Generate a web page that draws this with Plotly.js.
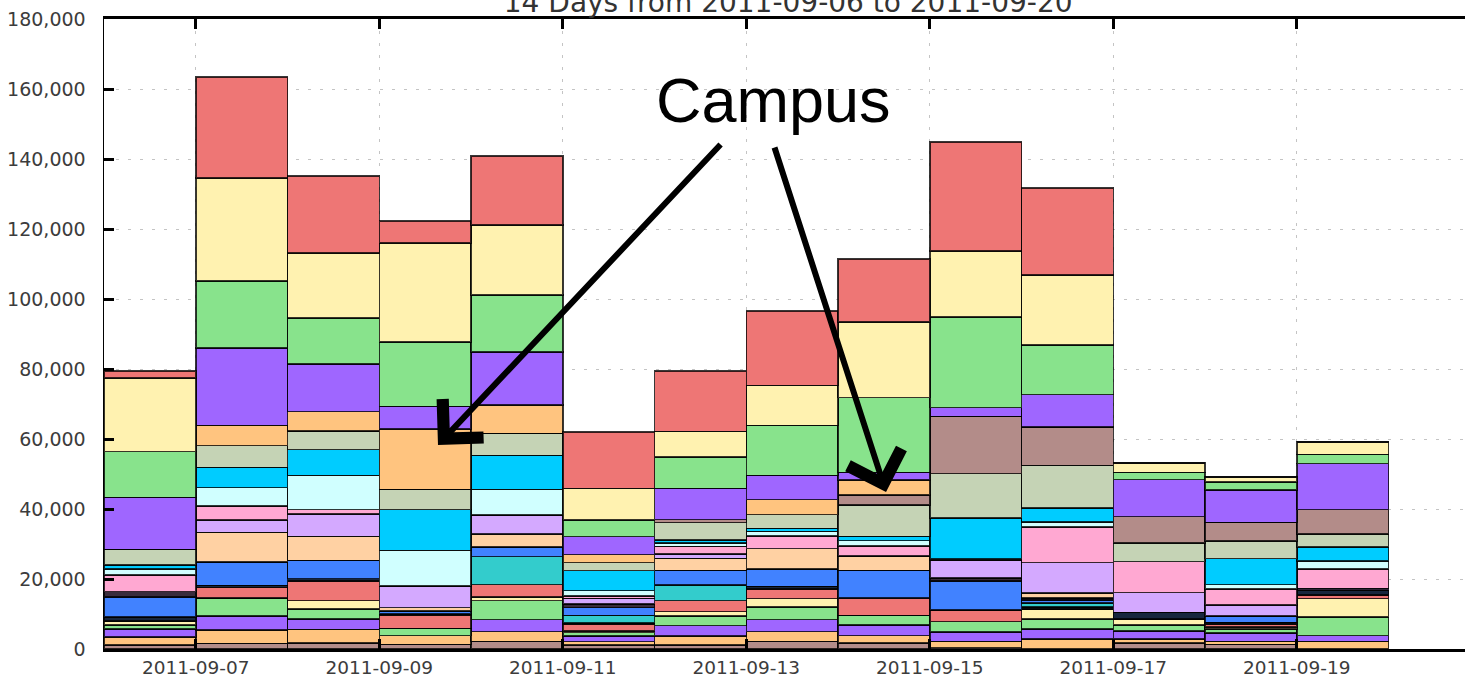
<!DOCTYPE html>
<html><head><meta charset="utf-8">
<script src="https://cdn.plot.ly/plotly-3.0.1.min.js"></script>
<style>html,body{margin:0;padding:0;background:#fff}#chart{width:1465px;height:677px}</style>
</head><body><div id="chart"></div><script>
// Days (one bar per day)
const days = ['2011-09-06','2011-09-07','2011-09-08','2011-09-09','2011-09-10','2011-09-11','2011-09-12',
              '2011-09-13','2011-09-14','2011-09-15','2011-09-16','2011-09-17','2011-09-18','2011-09-19'];

// Stack layers, bottom to top
const seriesNames = ['s01','s02','s03','s04','s05','s06','s07','s08','s09','s10','s11',
                     's12','s13','s14','s15','s16','s17','s18','s19','s20','s21','s22'];
const seriesColors = ['#b38c89','#ffc47f','#9f66ff','#88e38c','#fff2b0','#ee7675','#17263d','#33cccc',
                      '#4182ff','#3a2c3c','#ffd1a3','#d4a9ff','#ffa8d2','#d0ffff','#00ccff','#c5d3b5',
                      '#b38c89','#ffc47f','#9f66ff','#88e38c','#fff2b0','#ee7675'];

const s01 = [1200,1600,1700,1300,2200,1100,1200,2200,1700,400,0,1700,1300,0];
const s02 = [2200,3900,3900,2500,2800,1000,2500,2800,2100,1800,2800,1100,900,2200];
const s03 = [2300,3900,3000,0,3400,1600,3000,3400,3000,2600,2900,2300,2400,1600];
const s04 = [1200,5200,2900,2100,5400,1000,2800,3600,2800,3000,2900,1800,1100,5400];
const s05 = [1100,0,2300,0,1100,500,1200,2400,0,0,2800,1700,600,5200];
const s06 = [0,3000,5600,3700,3500,2000,3100,2800,4800,3400,0,0,900,1100];
const s07 = [1200,600,700,400,0,300,0,700,300,0,600,1900,400,1300];
const s08 = [0,0,0,0,8000,2100,4500,0,0,0,1100,0,0,0];
const s09 = [5600,6600,5200,800,2800,2200,4200,5000,7800,8300,900,0,1800,0];
const s10 = [1600,0,0,0,0,1000,0,0,0,800,600,0,0,0];
const s11 = [0,8500,6900,1000,3600,0,3400,5800,4100,0,1400,0,0,0];
const s12 = [0,3500,6400,6200,5500,1700,1200,0,0,5000,8700,5600,3200,500];
const s13 = [4700,4100,1200,0,0,600,2200,3600,2800,0,10200,8900,4600,5600];
const s14 = [1700,5200,9800,10200,7300,1600,1000,1300,1600,400,1400,0,1200,2300];
const s15 = [1200,5800,7400,11600,9700,5700,800,900,1200,11800,4000,0,7400,4000];
const s16 = [4500,6200,5300,5800,6300,2300,5000,3900,8900,12600,12200,5300,5100,3600];
const s17 = [0,0,0,0,0,0,900,0,2900,16400,10900,7500,5300,7000];
const s18 = [0,5800,5500,17200,8100,2300,0,4300,4300,0,0,0,0,0];
const s19 = [14800,22100,13600,6500,15200,5100,8900,6900,2200,2500,9300,10600,9300,13200];
const s20 = [13100,19100,13200,18400,16200,4800,8900,14300,21300,25900,14200,2100,2200,2600];
const s21 = [21000,29500,18500,28300,20000,9000,7400,11400,21600,18800,20000,2600,1500,3600];
const s22 = [2000,28800,22000,6300,19800,16100,17200,21300,18000,31200,24800,0,0,0];

const seriesValues = [s01,s02,s03,s04,s05,s06,s07,s08,s09,s10,s11,s12,s13,s14,s15,s16,s17,s18,s19,s20,s21,s22];

const DAY = 86400000;
const traces = seriesValues.map((vals, i) => ({
  type: 'bar', x: days, y: vals, name: seriesNames[i],
  xperiod: DAY, xperiodalignment: 'middle', width: DAY,
  marker: {color: seriesColors[i], line: {color: 'rgba(0,0,0,0.78)', width: 1.5}},
  hoverinfo: 'skip'
}));

const titleText = '14 Days from 2011-09-06 to 2011-09-20';
const noteText = 'Campus';

const layout = {
  width: 1465, height: 677,
  margin: {l: 104, r: 0, t: 19, b: 28, pad: 0},
  barmode: 'stack', bargap: 0,
  showlegend: false,
  paper_bgcolor: '#ffffff', plot_bgcolor: '#ffffff',
  font: {family: 'DejaVu Sans', size: 18, color: '#3c3c3c'},
  title: {text: titleText, font: {family: 'DejaVu Sans', size: 28, color: '#333'},
          xref: 'container', x: 0.538, xanchor: 'center',
          yref: 'container', y: 1 - 12/677, yanchor: 'bottom'},
  xaxis: {type: 'date', range: ['2011-09-06', '2011-09-20 20:00'],
          tick0: '2011-09-07', dtick: 2*DAY, tickformat: '%Y-%m-%d',
          tickfont: {family: 'DejaVu Sans', size: 18.5, color: '#3c3c3c'},
          ticks: 'inside', ticklen: 10, tickwidth: 3, tickcolor: '#000',
          showline: true, linewidth: 3, linecolor: '#000', mirror: 'ticks',
          showgrid: true, gridcolor: '#c4c4c4', griddash: '3px,9px', gridwidth: 1,
          zeroline: false, fixedrange: true},
  yaxis: {range: [0, 180000], dtick: 20000, tickformat: ',d',
          tickfont: {family: 'DejaVu Sans', size: 19, color: '#3c3c3c'},
          ticks: 'inside', ticklen: 10, tickwidth: 3, tickcolor: '#000',
          showline: true, linewidth: 1.5, linecolor: '#000',
          showgrid: true, gridcolor: '#c4c4c4', griddash: '3px,9px', gridwidth: 1,
          zeroline: false, ticklabelstandoff: 13, fixedrange: true},
  annotations: [
    {text: noteText, xref: 'paper', yref: 'paper', x: 0.4916, y: 0.872,
     xanchor: 'center', yanchor: 'middle', showarrow: false,
     font: {family: 'Liberation Sans', size: 63, color: '#000'}},
    {text: '', xref: 'paper', yref: 'paper', x: 0.2454, y: 0.3238,
     axref: 'pixel', ayref: 'pixel', ax: 284, ay: -302,
     showarrow: true, arrowhead: 4, arrowsize: 1.8, arrowwidth: 6, arrowcolor: '#000', standoff: 0},
    {text: '', xref: 'paper', yref: 'paper', x: 0.5746, y: 0.2492,
     axref: 'pixel', ayref: 'pixel', ax: -112, ay: -346,
     showarrow: true, arrowhead: 4, arrowsize: 1.8, arrowwidth: 6, arrowcolor: '#000', standoff: 0}
  ]
};

Plotly.newPlot('chart', traces, layout, {displayModeBar: false, staticPlot: true});
</script></body></html>
